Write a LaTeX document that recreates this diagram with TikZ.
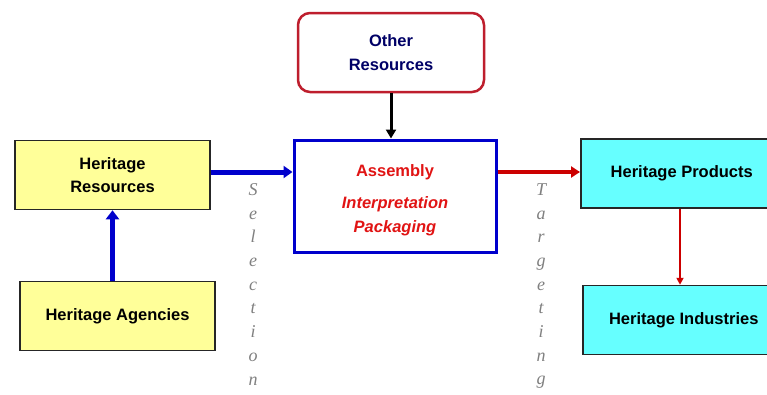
\documentclass[tikz,border=0pt]{standalone}
\usepackage{fontspec}
\setmainfont{Liberation Sans}
\newfontfamily\letterfont{Liberation Serif}
\usetikzlibrary{arrows.meta}
\definecolor{boxyellow}{RGB}{255,255,153}
\definecolor{boxcyan}{RGB}{102,255,255}
\definecolor{linkblue}{RGB}{0,0,204}
\definecolor{linkred}{RGB}{204,0,0}
\definecolor{framered}{RGB}{190,30,45}
\definecolor{textnavy}{RGB}{0,0,102}
\definecolor{textred}{RGB}{225,20,20}
\definecolor{lettergray}{RGB}{128,128,128}
\begin{document}
\begin{tikzpicture}[x=1pt,y=-1pt]
    \tikzstyle{srcbox}=[draw=black!85, line width=1.5pt, fill=boxyellow, minimum width=195pt, minimum height=69pt, align=center, font=\fontsize{16.5}{23}\selectfont\bfseries]
    \tikzstyle{prodbox}=[draw=black!85, line width=1.5pt, fill=boxcyan, minimum width=202pt, minimum height=69pt, align=center, font=\fontsize{16.5}{23}\selectfont\bfseries]
    \tikzstyle{sideword}=[align=center, text=lettergray, font=\fontsize{18}{23.7}\selectfont\letterfont\itshape]
    \clip (0,0) rectangle (767,394);
    \fill[white] (0,0) rectangle (767,394);
    \node[srcbox] (res) at (112.5,175) {Heritage\\Resources};
    \node[srcbox] (agc) at (117.5,316) {Heritage Agencies};
    \node[draw=framered, line width=2.5pt, rounded corners=12pt, fill=white, minimum width=186pt, minimum height=79pt, align=center, text=textnavy, font=\fontsize{16.5}{24}\selectfont\bfseries] (oth) at (391,52.5) {Other\\Resources};
    \node[draw=linkblue, line width=3pt, fill=white, minimum width=202pt, minimum height=112pt, align=center, text=textred, font=\fontsize{16.5}{24}\selectfont\bfseries] (asm) at (395,196) {\rule{0pt}{21pt}Assembly\\[8pt]\itshape Interpretation\\\itshape Packaging};
    \node[prodbox, anchor=west] (prd) at (580,173.5) {Heritage Products};
    \node[prodbox, anchor=west] (ind) at (582,320) {Heritage Industries};
    \node[sideword, anchor=north] (sel) at (253,180) {S\\e\\l\\e\\c\\t\\i\\o\\n};
    \node[sideword, anchor=north] (tgt) at (541,180) {T\\a\\r\\g\\e\\t\\i\\n\\g};
    % links
    \draw[linkblue, line width=5pt, -{Triangle[length=9pt,width=13pt]}] (agc.north -| res.south) -- (res.south);
    \draw[linkblue, line width=5pt, -{Triangle[length=9pt,width=12pt]}] (res.east |- 0,172) -- (asm.west |- 0,172);
    \draw[black, line width=3pt, -{Triangle[length=9pt,width=10pt]}] (oth.south) -- (asm.north -| oth.south);
    \draw[linkred, line width=4pt, -{Triangle[length=9pt,width=11pt]}] (asm.east |- 0,172) -- (prd.west |- 0,172);
    \draw[linkred, line width=2pt, -{Triangle[length=7pt,width=7pt]}] (prd.south -| 680,0) -- (ind.north -| 680,0);
\end{tikzpicture}
\end{document}
